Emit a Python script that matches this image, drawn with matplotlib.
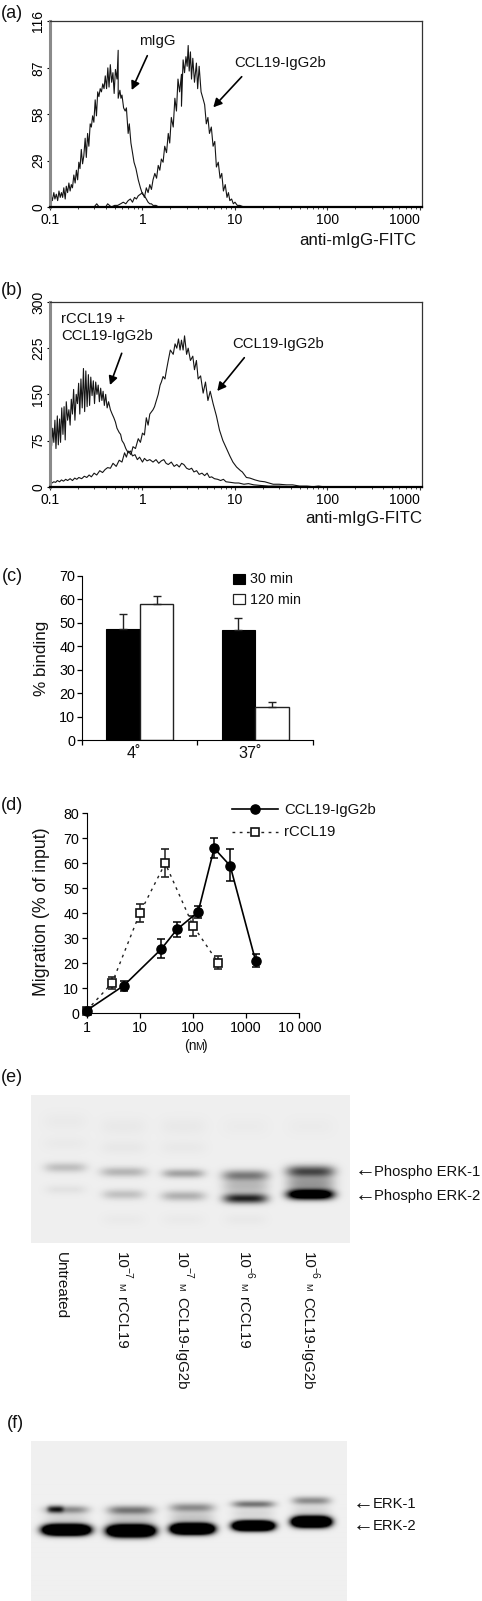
import numpy as np
from matplotlib import pyplot as plt

plt.rcParams["font.family"] = ["Liberation Sans", "DejaVu Sans"]

W, H = 482, 1601

# (a) histograms
a_migg_x = [0.100, 0.103, 0.106, 0.110, 0.113, 0.117, 0.121, 0.125, 0.129, 0.133,
            0.137, 0.141, 0.146, 0.150, 0.155, 0.160, 0.165, 0.170, 0.175, 0.181,
            0.187, 0.193, 0.199, 0.205, 0.211, 0.218, 0.225, 0.232, 0.240, 0.247,
            0.255, 0.263, 0.272, 0.280, 0.289, 0.298, 0.308, 0.318, 0.328, 0.338,
            0.349, 0.360, 0.372, 0.384, 0.396, 0.409, 0.422, 0.435, 0.449, 0.464,
            0.479, 0.494, 0.510, 0.530, 0.546, 0.546, 0.570, 0.585, 0.600, 0.625,
            0.650, 0.670, 0.700, 0.720, 0.750, 0.780, 0.810, 0.850, 0.900, 0.950,
            1.000, 1.050, 1.100, 1.150, 1.200, 1.250, 1.300, 1.400, 1.500, 1.700]
a_migg_y = [3, 7, 4, 9, 5, 8, 4, 10, 6, 9,
            6, 12, 5, 13, 9, 15, 10, 14, 12, 20,
            15, 23, 17, 28, 24, 36, 27, 32, 43, 31,
            46, 38, 52, 50, 57, 53, 67, 57, 72, 69,
            74, 72, 77, 74, 82, 74, 87, 75, 89, 78,
            84, 71, 86, 80, 98, 68, 73, 68, 70, 62,
            60, 62, 46, 52, 40, 34, 28, 24, 17, 12,
            8, 7, 5, 3, 2, 2, 1, 1, 0, 0]
a_ccl_x = [0.30, 0.32, 0.34, 0.40, 0.42, 0.46, 0.50, 0.54, 0.58, 0.62,
           0.66, 0.70, 0.74, 0.78, 0.82, 0.86, 0.90, 0.95, 1.00, 1.05,
           1.10, 1.15, 1.20, 1.25, 1.30, 1.36, 1.42, 1.48, 1.54, 1.60,
           1.67, 1.74, 1.82, 1.90, 1.97, 2.05, 2.15, 2.24, 2.33, 2.42,
           2.52, 2.64, 2.64, 2.75, 2.85, 2.95, 3.04, 3.12, 3.20, 3.30,
           3.39, 3.50, 3.65, 3.83, 3.95, 4.10, 4.30, 4.50, 4.70, 4.90,
           5.10, 5.30, 5.55, 5.80, 6.05, 6.30, 6.60, 6.90, 7.20, 7.50,
           7.85, 8.20, 8.50, 8.80, 9.20, 9.60, 10.0, 10.6, 11.3, 12.5]
a_ccl_y = [0, 2, 0, 0, 2, 0, 1, 1, 2, 3,
           2, 4, 5, 3, 6, 5, 7, 8, 9, 6,
           12, 9, 14, 11, 17, 21, 18, 26, 23, 30,
           28, 38, 34, 46, 40, 56, 50, 68, 60, 80,
           72, 83, 63, 92, 84, 94, 88, 101, 85, 97,
           80, 93, 78, 90, 74, 88, 72, 68, 64, 52,
           56, 46, 50, 38, 41, 25, 28, 18, 21, 10,
           14, 6, 9, 4, 5, 2, 3, 1, 1, 0]
a_yticks = [0, 29, 58, 87, 116]

# (b) histograms
b_r_x = [0.100, 0.101, 0.104, 0.107, 0.110, 0.113, 0.116, 0.120, 0.123, 0.127,
         0.130, 0.134, 0.138, 0.142, 0.146, 0.150, 0.155, 0.160, 0.165, 0.170,
         0.175, 0.180, 0.186, 0.192, 0.198, 0.204, 0.210, 0.216, 0.223, 0.230,
         0.237, 0.244, 0.252, 0.260, 0.268, 0.276, 0.285, 0.294, 0.303, 0.312,
         0.322, 0.332, 0.342, 0.353, 0.364, 0.375, 0.387, 0.400, 0.415, 0.430,
         0.450, 0.470, 0.490, 0.510, 0.530, 0.560, 0.580, 0.600, 0.630, 0.660,
         0.700, 0.740, 0.780, 0.830, 0.880, 0.930, 1.00, 1.05, 1.12, 1.20,
         1.30, 1.40, 1.50, 1.60, 1.70, 1.80, 1.90, 2.05, 2.20, 2.35,
         2.50, 2.65, 2.80, 3.00, 3.20, 3.40, 3.60, 3.85, 4.10, 4.40,
         4.70, 5.00, 5.30, 5.60, 6.00, 6.50, 7.00, 7.50, 8.00, 9.00,
         10.0, 11.0, 12.5, 14.0, 16.0, 19.0, 23.0, 30.0, 40.0, 50.0]
b_r_y = [75, 92, 66, 95, 72, 108, 62, 115, 68, 110,
         72, 128, 85, 130, 76, 138, 108, 125, 100, 142,
         118, 158, 108, 150, 135, 168, 118, 175, 128, 192,
         122, 188, 130, 182, 132, 178, 148, 172, 135, 170,
         150, 165, 138, 160, 140, 155, 132, 150, 128, 138,
         125, 118, 112, 105, 95, 88, 85, 75, 70, 62,
         55, 58, 50, 52, 44, 48, 40, 46, 42, 44,
         40, 44, 38, 42, 44, 38, 36, 40, 33, 36,
         32, 38, 36, 30, 28, 30, 24, 26, 20, 22,
         18, 22, 15, 16, 13, 12, 10, 12, 8, 7,
         6, 6, 4, 5, 3, 2, 1, 1, 0, 0]
b_c_x = [0.100, 0.105, 0.110, 0.115, 0.120, 0.127, 0.133, 0.140, 0.148, 0.155,
         0.165, 0.175, 0.185, 0.195, 0.205, 0.220, 0.235, 0.250, 0.265, 0.280,
         0.300, 0.320, 0.345, 0.370, 0.395, 0.420, 0.450, 0.480, 0.520, 0.560,
         0.600, 0.640, 0.670, 0.700, 0.750, 0.790, 0.840, 0.900, 0.950, 1.00,
         1.05, 1.10, 1.15, 1.20, 1.30, 1.35, 1.40, 1.48, 1.55, 1.60,
         1.67, 1.75, 1.82, 1.90, 2.00, 2.15, 2.25, 2.35, 2.45, 2.55,
         2.64, 2.75, 2.85, 3.00, 3.12, 3.30, 3.50, 3.65, 3.83, 4.00,
         4.25, 4.53, 4.80, 5.10, 5.40, 5.80, 6.30, 6.80, 7.40, 8.10,
         8.80, 9.50, 10.4, 11.5, 12.0, 13.3, 14.5, 16.5, 18.5, 21.0,
         25.9, 30.0, 36.0, 42.0, 50.0, 60.0, 70.0, 80.0, 90.0, 100.0]
b_c_y = [8, 6, 8, 7, 10, 8, 11, 9, 12, 10,
         13, 10, 14, 12, 15, 13, 17, 15, 19, 16,
         22, 19, 26, 23, 28, 31, 30, 38, 33, 43,
         40, 55, 48, 58, 52, 65, 62, 78, 72, 87,
         84, 112, 100, 118, 125, 130, 138, 150, 165, 170,
         179, 175, 190, 205, 222, 215, 232, 225, 240, 222,
         238, 222, 245, 215, 225, 205, 212, 190, 205, 175,
         180, 152, 170, 140, 155, 135, 115, 92, 75, 62,
         50, 40, 32, 26, 24, 15, 14, 11, 9, 8,
         4, 4, 3, 3, 1, 1, 0, 1, 0, 0]
b_yticks = [0, 75, 150, 225, 300]

hist_xticks = [0.1, 1, 10, 100, 1000]
hist_xlabels = ["0.1", "1", "10", "100", "1000"]

# (c) bars
c_groups = [0.5, 1.5]
c_30 = [47.5, 47]
c_120 = [58, 14]
c_30_err = [6, 5]
c_120_err = [3.2, 2.2]
c_yticks = [0, 10, 20, 30, 40, 50, 60, 70]

# (d) dose response
d_igg_x = [1, 5, 25, 50, 125, 250, 500, 1500]
d_igg_y = [1, 11, 25.5, 33.5, 40.5, 66, 59, 21]
d_igg_low = [0, 2, 3.5, 3, 2.5, 4, 6, 2.5]
d_igg_up = [0, 2, 4, 3, 2.5, 4, 6.5, 2.5]
d_r_x = [1, 3, 10, 30, 100, 300]
d_r_y = [1, 12, 40, 60, 35, 20]
d_r_low = [0, 2.5, 3.5, 5.5, 4, 2.5]
d_r_up = [0, 2.5, 3.5, 5.5, 4, 3]
d_xticks = [1, 10, 100, 1000, 10000]
d_xlabels = ["1", "10", "100", "1000", "10 000"]
d_yticks = [0, 10, 20, 30, 40, 50, 60, 70, 80]

# (e) blot bands, read in pixels: centre x, centre y, half width, half height, darkness
e_bands = [
    (65, 1168, 21, 5.0, 0.20), (123, 1172.5, 23, 5.0, 0.24), (183, 1174, 21, 4.5, 0.32),
    (245, 1176, 23, 5.5, 0.48), (310, 1172, 24, 6.0, 0.70),
    (65, 1190, 20, 5.0, 0.05), (123, 1195, 21, 5.0, 0.19), (183, 1196.5, 22, 5.0, 0.26),
    (245, 1199, 22, 5.0, 0.85), (310, 1195, 23, 5.0, 1.6),
    (245, 1187, 23, 7.0, 0.22), (310, 1184, 24, 7.0, 0.35),
    (65, 1122, 22, 9.0, 0.02), (123, 1127, 23, 9.0, 0.025), (183, 1127, 23, 9.0, 0.025),
    (65, 1144, 22, 7.0, 0.02), (123, 1148, 23, 7.0, 0.03), (183, 1148, 23, 7.0, 0.025),
    (245, 1127, 23, 9.0, 0.015), (310, 1127, 23, 9.0, 0.015),
    (123, 1220, 21, 6.0, 0.02), (183, 1220, 21, 6.0, 0.02), (245, 1220, 21, 6.0, 0.025),
]

# (f) blot bands
f_bands = [
    (66, 1509.5, 22, 4.0, 0.42), (55, 1509, 8, 3.5, 0.55), (130.5, 1510, 23, 4.5, 0.52),
    (191.5, 1507.5, 22, 4.5, 0.42), (253, 1504, 21, 3.5, 0.52), (311, 1500.5, 19, 4.0, 0.42),
    (66, 1518, 22, 5.0, 0.1), (130.5, 1519, 23, 5.0, 0.14), (191.5, 1517, 22, 5.0, 0.16),
    (253, 1513, 21, 5.0, 0.1), (311, 1510, 19, 5.0, 0.1),
    (66, 1529.5, 23, 5.0, 3.0), (130.5, 1530.5, 23, 5.5, 3.0), (192, 1528.5, 21, 5.0, 3.0),
    (253, 1525.5, 20, 4.5, 3.0), (311, 1521.5, 19, 5.0, 3.0),
]

lane_x = [122, 182.5, 244, 309]
lane_exp = ["−7", "−7", "−6", "−6"]
lane_agent = ["rCCL19", "CCL19-IgG2b", "rCCL19", "CCL19-IgG2b"]


fig = plt.figure(figsize=(W / 100, H / 100), dpi=100)


def put(x, y, s, size, **kw):
    kw.setdefault("va", "center")
    return fig.text(x / W, 1 - y / H, s, fontsize=size, color="#111111", **kw)


def axes_px(left, top, right, bottom):
    return fig.add_axes([left / W, 1 - bottom / H, (right - left) / W, (bottom - top) / H])


def hist_panel(box, curves, yticks):
    ax = axes_px(*box)
    for xs, ys in curves:
        ax.plot(xs, ys, color="#151515", lw=0.8, clip_on=False)
    ax.set_xscale("log")
    ax.set_xlim(0.1, 1040)
    ax.set_ylim(0, yticks[-1])
    ax.set_xticks(hist_xticks, hist_xlabels, fontsize=10)
    ax.xaxis.get_ticklabels()[-1].set_ha("right")
    ax.xaxis.get_ticklabels()[-1].set_x(1040)
    ax.minorticks_on()
    ax.set_yticks(yticks, [str(t) for t in yticks], rotation=90, va="center", fontsize=10)
    ax.yaxis.set_minor_locator(plt.NullLocator())
    ax.xaxis.set_minor_formatter(plt.NullFormatter())
    ax.tick_params(axis="x", which="major", length=2.5, width=0.8, pad=2, color="#333333")
    ax.tick_params(axis="x", which="minor", length=1.5, width=0.7, color="#444444")
    ax.tick_params(axis="y", length=2, width=0.8, pad=1.5)
    ax.spines["bottom"].set_linewidth(1.6)
    ax.spines["left"].set_linewidth(2.2)
    ax.spines["left"].set_color("#8a8a8a")
    for side in ["top", "right"]:
        ax.spines[side].set_linewidth(0.9)
        ax.spines[side].set_color("#333333")
    return ax


def arrow(x0, y0, x1, y1):
    fig.add_artist(plt.matplotlib.patches.FancyArrowPatch(
        (x0 / W, 1 - y0 / H), (x1 / W, 1 - y1 / H), transform=fig.transFigure,
        arrowstyle="-|>,head_length=5,head_width=2.6", lw=1.2, color="black",
        shrinkA=0, shrinkB=0))


def blot_panel(left, top, right, bottom, bands, bg):
    ax = axes_px(left, top, right, bottom)
    xs = np.arange(left, right, 1.0)
    ys = np.arange(top, bottom, 1.0)
    gx, gy = np.meshgrid(xs, ys)
    dark = np.zeros_like(gx)
    for cx, cy, hw, hh, amp in bands:
        dark += amp * np.exp(-(((gx - cx) / hw) ** 4)) * np.exp(-(((gy - cy) / hh) ** 2))
    img = bg * (1 - np.clip(dark, 0, 1))
    ax.imshow(img, cmap="gray", vmin=0, vmax=1, aspect="auto", interpolation="bilinear",
              extent=(left, right, bottom, top))
    ax.axis("off")
    return ax


# (a)
put(1, 14, "(a)", 13)
hist_panel((50, 21.5, 421.5, 207), [(a_migg_x, a_migg_y), (a_ccl_x, a_ccl_y)], a_yticks)
put(157, 41.5, "mIgG", 10.7, ha="center")
put(234.5, 62.5, "CCL19-IgG2b", 10.7)
put(416, 240, "anti-mIgG-FITC", 12.2, ha="right")
arrow(147.3, 55.7, 131.7, 90)
arrow(241.7, 76.7, 213.3, 107.3)

# (b)
put(1, 290.5, "(b)", 13)
hist_panel((50, 302, 421.5, 486.7), [(b_r_x, b_r_y), (b_c_x, b_c_y)], b_yticks)
put(61, 319, "rCCL19 +", 10.7)
put(61, 336, "CCL19-IgG2b", 10.7)
put(232.7, 344, "CCL19-IgG2b", 10.7)
put(422.7, 518.5, "anti-mIgG-FITC", 12.2, ha="right")
arrow(121.7, 353.3, 110, 385)
arrow(244.3, 357.7, 217.3, 391)

# (c)
put(2, 576, "(c)", 13)
ax = axes_px(82.3, 575.7, 312.7, 740.3)
pos = np.array(c_groups)
ax.bar(pos - 0.145, c_30, 0.29, color="black", edgecolor="black", lw=0.8,
       yerr=[[0, 0], c_30_err], error_kw=dict(ecolor="#222222", elinewidth=1, capsize=3.2, capthick=1))
ax.bar(pos + 0.145, c_120, 0.29, color="white", edgecolor="#222222", lw=1,
       yerr=[[0, 0], c_120_err], error_kw=dict(ecolor="#222222", elinewidth=1, capsize=3.2, capthick=1))
ax.set_xlim(0, 2)
ax.set_ylim(0, 70)
ax.set_xticks([0, 1, 2], [])
ax.set_yticks(c_yticks, [str(t) for t in c_yticks], fontsize=10.4)
ax.tick_params(length=3.6, width=0.9, pad=1.5)
ax.spines[["top", "right"]].set_visible(False)
put(134.3, 753, "4˚", 11.7, ha="center")
put(250, 753, "37˚", 11.7, ha="center")
put(41.7, 658, "% binding", 12.3, rotation=90, ha="center")
leg = axes_px(230, 570, 250, 610)
leg.set_xlim(230, 250)
leg.set_ylim(610, 570)
leg.axis("off")
leg.add_patch(plt.Rectangle((233, 574.5), 12, 9.5, fc="black", ec="black", lw=0.8))
leg.add_patch(plt.Rectangle((233, 594.5), 12, 9.5, fc="white", ec="#222222", lw=0.9))
put(250, 579, "30 min", 10.3)
put(250, 599.5, "120 min", 10.3)

# (d)
put(1, 805, "(d)", 13)
ax = axes_px(86.7, 813.3, 299.3, 1013)
ax.errorbar(d_r_x, d_r_y, yerr=[d_r_low, d_r_up], color="#222222", ls=(0, (2, 3.2)), lw=1,
            marker="s", ms=5.8, mfc="white", mec="#111111", mew=1.2, capsize=3.2, capthick=1.1,
            elinewidth=1.1, clip_on=False, zorder=3)
ax.errorbar(d_igg_x, d_igg_y, yerr=[d_igg_low, d_igg_up], color="black", lw=1.2,
            marker="o", ms=6.6, capsize=3.2, capthick=1.1, elinewidth=1.1, clip_on=False, zorder=4)
ax.set_xscale("log")
ax.set_xlim(1, 10000)
ax.set_ylim(0, 80)
ax.set_xticks(d_xticks, d_xlabels, fontsize=10.3)
ax.xaxis.set_minor_locator(plt.NullLocator())
ax.set_yticks(d_yticks, [str(t) for t in d_yticks], fontsize=10.3)
ax.tick_params(length=3.6, width=0.9, pad=2)
ax.spines[["top", "right"]].set_visible(False)
put(41.7, 911.7, "Migration (% of input)", 12.8, rotation=90, ha="center")
put(184, 1046, "(n", 10)
put(195, 1046.5, "M", 7.5)
put(203, 1046, ")", 10)
leg = axes_px(225, 800, 285, 840)
leg.set_xlim(225, 285)
leg.set_ylim(840, 800)
leg.axis("off")
leg.plot([231.7, 278], [809, 809], color="black", lw=1.2, marker="None")
leg.plot([255], [809], color="black", marker="o", ms=6.6)
leg.plot([231.7, 278], [832, 832], color="#222222", lw=1, ls=(0, (2, 3.2)))
leg.plot([255], [832], marker="s", ms=5.8, mfc="white", mec="#111111", mew=1.2)
put(284, 809.5, "CCL19-IgG2b", 10.7)
put(284, 832, "rCCL19", 10.7)

# (e)
put(1, 1078, "(e)", 13)
blot_panel(31, 1095, 349.3, 1243.3, e_bands, 0.935)
put(355, 1171, "←", 15, fontweight="light")
put(374.5, 1171.5, "Phospho ERK-1", 10.6)
put(355, 1195.5, "←", 15, fontweight="light")
put(374.5, 1196, "Phospho ERK-2", 10.6)
put(61, 1251.7, "Untreated", 11, rotation=270, ha="center", va="top")
for lx, ex, agent in zip(lane_x, lane_exp, lane_agent):
    put(lx - 1.3, 1252, "10", 10.8, rotation=270, ha="center", va="top")
    put(lx + 5.5, 1267, ex, 7.5, rotation=270, ha="center", va="top")
    put(lx - 1.5, 1283, "M", 6.5, rotation=270, ha="center", va="top")
    put(lx - 1.3, 1296.7, agent, 10.8, rotation=270, ha="center", va="top")

# (f)
put(7, 1423, "(f)", 13)
blot_panel(31, 1440.7, 346.7, 1600.7, f_bands, 0.94)
put(353, 1503.5, "←", 15, fontweight="light")
put(372.5, 1503.5, "ERK-1", 10.6)
put(353, 1526, "←", 15, fontweight="light")
put(372.5, 1526, "ERK-2", 10.6)

fig.savefig("out.png", dpi=100)
